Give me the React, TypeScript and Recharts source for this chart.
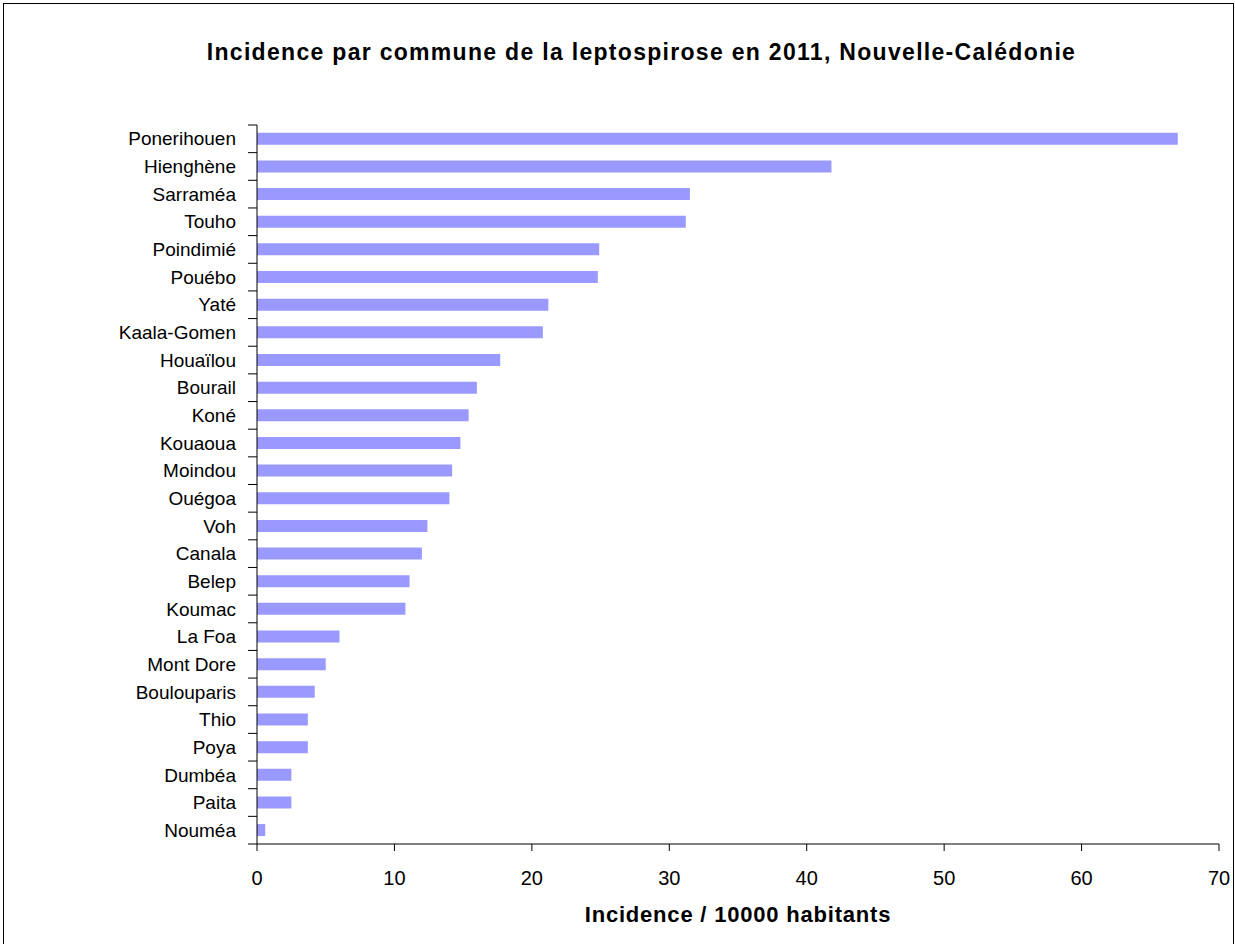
import { BarChart, Bar, XAxis, YAxis } from "recharts";

const communes = [
  "Ponerihouen", "Hienghène", "Sarraméa", "Touho", "Poindimié", "Pouébo", "Yaté",
  "Kaala-Gomen", "Houaïlou", "Bourail", "Koné", "Kouaoua", "Moindou", "Ouégoa",
  "Voh", "Canala", "Belep", "Koumac", "La Foa", "Mont Dore", "Boulouparis",
  "Thio", "Poya", "Dumbéa", "Paita", "Nouméa",
];
const incidence = [
  67.0, 41.8, 31.5, 31.2, 24.9, 24.8, 21.2, 20.8, 17.7, 16.0, 15.4, 14.8, 14.2,
  14.0, 12.4, 12.0, 11.1, 10.8, 6.0, 5.0, 4.2, 3.7, 3.7, 2.5, 2.5, 0.6,
];
const xTicks = [0, 10, 20, 30, 40, 50, 60, 70];

const data = communes.map((name, i) => ({ name, value: incidence[i] }));

const FONT = "'Liberation Sans', Arial, sans-serif";
const BAND = 719 / communes.length;

function CategoryTick(props: any) {
  const { x, y, payload, index } = props;
  const top = y - BAND / 2;
  return (
    <g>
      <line x1={x - 1} x2={x + 8} y1={top} y2={top} stroke="#000" />
      {index === communes.length - 1 && (
        <line x1={x - 1} x2={x + 8} y1={top + BAND} y2={top + BAND} stroke="#000" />
      )}
      <text x={x - 13} y={y} dy="0.35em" textAnchor="end" fontSize={19} fontFamily={FONT} fill="#000">
        {payload.value}
      </text>
    </g>
  );
}

export default function App() {
  return (
    <div style={{ position: "absolute", left: 0, top: 0, width: 1235, height: 944, background: "#fff", overflow: "hidden" }}>
      <div style={{ position: "absolute", left: 3, top: 3, width: 1229, height: 960, border: "1px solid #000" }} />
      <div
        style={{
          position: "absolute", left: 24, top: 39, width: 1235, textAlign: "center",
          fontFamily: FONT, fontWeight: "bold", fontSize: 23, letterSpacing: 1.3, color: "#000",
        }}
      >
        Incidence par commune de la leptospirose en 2011, Nouvelle-Calédonie
      </div>
      <div style={{ position: "absolute", left: 0, top: 0 }}>
        <BarChart
          width={1235}
          height={944}
          data={data}
          layout="vertical"
          margin={{ top: 125, right: 16, bottom: 40, left: 0 }}
          barCategoryGap="28%"
        >
          <XAxis
            type="number"
            domain={[0, 70]}
            ticks={xTicks}
            height={60}
            tickSize={7}
            tickMargin={20}
            axisLine={{ stroke: "#000" }}
            tickLine={{ stroke: "#000" }}
            tick={{ fontSize: 20, fontFamily: FONT, fill: "#000" }}
          />
          <YAxis
            type="category"
            dataKey="name"
            width={257}
            axisLine={{ stroke: "#000" }}
            tickLine={false}
            tick={<CategoryTick />}
            interval={0}
          />
          <Bar dataKey="value" fill="#9999ff" isAnimationActive={false} />
        </BarChart>
      </div>
      <div
        style={{
          position: "absolute", left: 257, top: 902, width: 962, textAlign: "center",
          fontFamily: FONT, fontWeight: "bold", fontSize: 22, letterSpacing: 0.8, color: "#000",
        }}
      >
        Incidence / 10000 habitants
      </div>
    </div>
  );
}
